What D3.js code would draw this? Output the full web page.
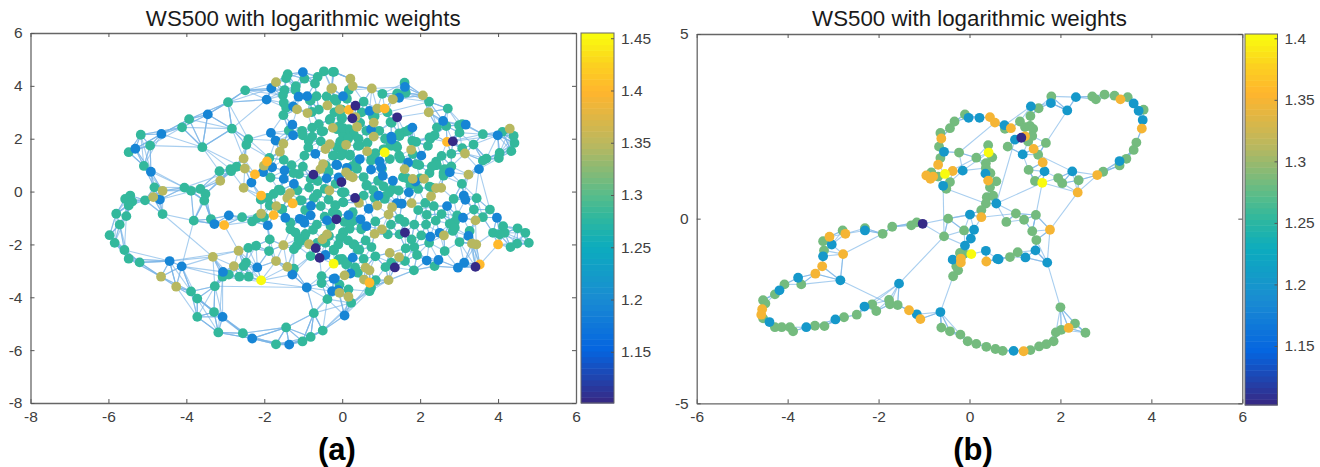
<!DOCTYPE html>
<html>
<head>
<meta charset="utf-8">
<script src="https://cdn.jsdelivr.net/npm/d3@7"></script>
<style>
body { margin: 0; background: #fff; }
svg { display: block; font-family: "Liberation Sans", Arial, sans-serif; }
.tick text { fill: #404040; font-size: 15.5px; }
.domain { stroke: #666; stroke-width: 1.3; }
.tick line { stroke: #555; stroke-width: 1; }
</style>
</head>
<body>
<svg width="1320" height="467"></svg>
<script>
// node positions, grouped by the colour (weight) of the dot
var weightsA = { indigo: 1.105, blue: 1.19, teal: 1.278, khaki: 1.349, orange: 1.40, yellow: 1.455 };
var weightsB = { indigo: 1.105, blue: 1.2015, green: 1.283, orange: 1.349, yellow: 1.403 };

var aIndigo = [[-.74,.64],[-.15,-1.05],[.34,3.25],[.26,2.77],[1.41,2.81],[2.84,1.90],[.33,-.24],[-.02,.36],[1.61,-1.55],[1.35,-2.87],[3.42,-2.85],[-.68,-2.14],[-.58,-2.51]];
var aYellow = [[-2.08,-3.36],[-.22,-2.73],[1.09,1.48]];
var aOrange = [[-2.24,.65],[-1.93,1.14],[-2.08,-.15],[-1.27,-.45],[-1.76,-.89],[-3.03,-1.27],[.17,3.09],[1.09,3.14],[2.69,1.88],[4.00,-2.00],[3.53,-2.76],[.70,-3.45]];
var aKhaki = [[-1.70,4.14],[-4.61,.03],[-4.85,-.21],[-3.13,.41],[-2.53,1.25],[-2.50,.87],[-2.01,.98],[-2.53,.14],[-1.51,1.81],[-1.60,1.51],[-1.34,-.06],[-1.41,-.24],[-1.69,-.55],[-2.08,-.84],
  [-.26,3.91],[-1.16,3.11],[-.89,2.97],[-.38,3.26],[-.06,3.11],[-.24,2.41],[-.32,1.79],[-.43,1.61],[-.49,1.04],[-.56,.85],[-.33,.04],
  [-3.32,-2.47],[-2.66,-2.24],[-1.51,-2.03],[-.85,-1.99],[-1.70,-2.63],[-1.41,-2.85],[-2.78,-2.82],[-4.65,-3.22],[-4.26,-3.60],[-.51,-1.81],[-.39,-1.62],
  [2.07,3.64],[2.22,3.00],[4.30,2.38],[3.15,1.44],[3.24,.64],[1.78,-.44],[2.28,-.18],[2.41,.13],[2.54,.14],[2.10,.48],[1.60,.85],[1.81,.48],[1.77,1.58],
  [1.30,3.49],[.76,3.90],[.21,4.27],[.27,3.99],[.90,3.14],[.34,2.82],[.81,2.61],[.38,2.45],[.81,2.08],[.10,1.77],[.64,1.52],[.10,.73],[.27,.54],[.19,.60],[.43,-.43],[.90,-.53],[1.28,-.59],[1.19,-.87],
  [3.42,-1.09],[3.44,-2.00],[3.33,-1.97],[2.61,-1.66],[1.02,-1.43],[.83,-1.60],[1.22,-2.32],[1.46,-2.48],[1.19,-3.35],[.56,-3.33],[.70,-2.98],[.60,-2.88],[.06,-3.17],[-.07,-3.83],[.16,-3.98],[-.28,3.89]];
var aBlue = [[-4.64,2.18],[-5.31,1.62],[-4.91,.75],[-3.45,2.92],[-1.82,3.91],[-1.94,3.48],[-4.68,-.30],[-3.28,-1.23],[-2.91,-.90],[-2.03,.74],[-1.80,.92],[-2.33,.34],[-1.83,2.22],[-1.71,1.93],[-1.91,-1.28],[-1.46,-.99],
  [-1.01,4.52],[-1.12,3.59],[-.90,3.61],[-1.26,3.22],[-1.28,2.53],[-1.26,2.13],[-.69,1.43],[-1.48,.80],[-1.50,.48],[-1.24,.29],[-.40,.50],[-.13,1.00],[-.09,.54],[-.80,-.54],[-1.09,-1.03],[-.99,-1.09],[-.81,-.90],[-.39,-1.09],[-.97,-1.18],
  [-4.43,-2.63],[-4.12,-2.83],[-3.07,-4.74],[-2.31,-5.56],[-1.36,-5.79],[-.91,-3.63],[-.26,-3.77],[-.10,-3.74],[-.19,-3.29],[-.43,-2.40],[-2.18,-2.87],[-3.06,-3.04],[-1.28,-3.14],
  [1.61,3.96],[1.46,3.55],[2.59,2.67],[3.17,2.53],[3.99,2.13],[3.51,.85],[3.12,-.15],[3.16,-.31],[2.69,-.55],[3.97,-.99],[3.10,-.99],[2.76,.73],[1.88,.38],[1.71,-.03],[1.30,.41],[2.03,1.36],[1.69,1.10],[1.26,2.08],[1.80,2.42],[1.53,-.46],
  [.02,3.61],[.70,3.05],[.74,2.36],[.45,1.23],[.96,1.14],[-.15,1.02],[.74,.83],[1.00,.92],[1.04,.60],[.93,-.15],[.68,-.65],[.47,-1.05],[.62,-1.31],[.16,-.89],
  [3.24,-1.68],[3.13,-2.69],[2.97,-2.88],[2.50,-1.56],[2.47,-2.59],[2.17,-2.61],[2.26,-1.71],[.27,-2.50],[.21,-3.10],[.06,-4.69],[-.11,-3.73],[-.22,-3.30],[1.27,1.97],[.12,.90],[1.40,-.44]];
var aTeal = [[-5.17,2.15],[-5.48,1.49],[-4.93,1.74],[-5.09,.97],[-4.11,2.43],[-3.93,2.74],[-2.93,3.38],[-2.49,3.83],[-2.83,2.38],[-3.59,1.68],[-4.82,.16],[-5.06,-.33],[-5.44,-.15],[-5.57,-.28],[-5.39,-.38],[-5.48,-.53],
  [-4.05,.15],[-3.88,.03],[-3.64,.10],[-3.51,-.09],[-3.54,-.34],[-4.61,-.85],[-5.80,-.84],[-5.54,-.93],[-5.71,-1.25],[-3.81,-1.10],[-3.37,-1.04],[-2.57,-.97],[-3.15,.77],[-2.87,.85],[-2.85,.77],[-2.71,.94],[-1.87,1.27],[-1.84,.53],[-2.41,1.98],[-2.46,1.77],
  [-1.91,-.24],[-2.09,-.30],[-1.86,-.53],[-1.54,-.68],[-2.31,-1.13],[-2.18,-1.00],[-2.01,-.97],[-1.33,-1.18],[-1.58,.04],
  [-1.40,4.44],[-1.44,4.29],[-.97,4.27],[-.47,4.55],[-.21,4.53],[-.63,4.34],[-.70,4.09],[-1.19,3.99],[-1.20,3.84],[-1.48,3.84],[-1.52,3.65],[-.66,3.61],[-.81,3.44],[-1.50,3.36],[-1.44,3.17],[-.78,3.01],[-.15,3.43],[-1.51,2.89],[-.32,2.71],
  [-.77,2.42],[-1.37,2.31],[-1.03,2.30],[-1.01,2.13],[-.49,2.28],[-.13,2.36],[-.77,2.08],[-.86,1.92],[-.87,1.67],[-.13,1.67],[-.97,1.36],[-.21,1.36],[-1.01,.94],[-1.11,.66],[-.63,.40],[-.81,.48],[-.17,.29],[-1.04,-.33],[-.64,-.09],[-.73,-.24],[-.17,-.53],[-.13,-.88],[-1.50,1.20],
  [-1.63,.07],[-1.76,-.09],[-1.08,-.34],[-1.55,-.66],[-.14,-.85],[-.18,-.51],[-.83,3.45],[-.18,3.50],[-.01,2.81],[-.31,2.75],[.07,2.17],[-.53,2.28],[.00,1.55],[-.42,.98],
  [-5.97,-1.65],[-5.84,-1.94],[-5.59,-2.21],[-5.48,-2.54],[-5.20,-2.68],[-3.88,-3.78],[-3.72,-4.05],[-3.72,-4.74],[-3.29,-4.56],[-3.18,-5.33],[-2.55,-5.36],[-1.70,-5.78],[-1.44,-5.14],[-1.02,-5.67],[-.81,-5.50],[-.50,-5.26],[-.73,-4.60],[-.38,-4.07],[-.53,-3.20],[-.53,-3.46],
  [-.81,-2.44],[-.21,-2.23],[-.09,-2.57],[-2.41,-2.13],[-2.21,-2.05],[-1.86,-1.81],[-1.88,-2.25],[-1.24,-2.18],[-1.16,-2.04],[-1.07,-1.87],[-.97,-1.71],[-1.33,-1.43],[-1.24,-2.92],[-2.47,-2.69],[-2.53,-2.82],[-3.07,-3.22],[-2.91,-3.14],[-2.64,-3.22],[-2.40,-3.22],[-3.27,-3.58],
  [-.34,-1.68],[-.43,-1.94],[-.64,-1.94],[-.94,-1.60],[-1.12,-1.79],[-.22,-2.20],[-.45,-1.75],
  [1.60,4.12],[1.63,3.74],[1.41,3.71],[2.23,3.40],[2.71,3.14],[2.43,2.43],[2.67,2.48],[3.00,2.51],[3.08,2.55],[3.01,2.23],[3.61,2.17],[4.11,2.26],[4.40,2.11],[4.42,1.84],[4.34,1.53],[3.37,1.78],[3.08,1.64],[2.80,1.43],[3.70,1.25],[3.61,1.17],[4.04,1.46],[4.02,1.27],[3.07,.29],[2.86,-.28],
  [3.38,-.68],[3.79,-.68],[3.61,-.97],[2.95,-.90],[2.89,-1.13],[2.76,-1.22],[2.17,-.88],[2.13,-.43],[2.24,.19],[2.63,.85],[2.60,.60],[2.24,.70],[2.41,1.13],[2.40,1.00],[1.28,.08],[1.45,.04],[1.56,.54],[1.81,1.42],[1.90,1.04],[1.46,1.36],[1.26,1.73],[1.39,1.73],
  [1.46,2.20],[1.60,2.26],[1.71,2.33],[1.80,1.92],[1.90,1.88],[2.20,1.73],[2.24,2.05],[2.37,2.13],[1.03,3.70],[-.24,4.53],[.17,3.84],[-.20,3.49],[.12,3.51],[-.07,3.11],[1.16,3.00],[.79,2.84],[1.24,2.63],[.02,2.17],[.17,2.36],[-.07,2.48],[.40,1.73],[.19,1.36],[-.03,1.36],[-.24,1.36],[.74,1.17],[1.22,1.23],[.36,1.10],
  [.62,.23],[.92,.41],[.06,-.03],[.02,-.40],[.83,-.24],[1.09,-.28],[1.47,-1.03],[.27,-.78],[.06,-1.15],[-.24,-.78],[.29,-1.10],[.03,-1.54],
  [4.79,-1.94],[4.70,-1.56],[4.50,-1.39],[4.49,-1.97],[4.32,-2.10],[4.17,-1.56],[4.13,-1.31],[3.87,-1.56],[4.04,-1.62],[3.01,-1.91],[3.27,-1.49],[2.84,-1.49],[2.89,-1.37],[2.63,-2.25],[2.37,-2.82],[1.84,-2.98],[1.92,-2.40],[2.23,-1.94],[1.63,-2.15],[2.03,-1.66],[1.78,-1.81],[1.47,-1.62],[1.17,-1.62],
  [1.61,-2.63],[1.26,-2.69],[1.11,-2.86],[.86,-3.35],[.70,-3.77],[.74,-3.64],[.40,-3.07],[-.07,-2.57],[.10,-2.76],[.40,-2.19],[.29,-2.00],[.02,-1.56],[.49,-1.43],[.23,-1.15],[.23,-4.21],[.16,-3.70],[-.07,-3.52],
  [-.01,3.10],[-.01,2.75],[.03,2.40],[.20,2.30],[.42,1.99],[.44,1.74],[.20,1.40],[.76,1.30],[1.49,1.25],[1.98,1.00],[1.02,.86],[.38,.86],[1.47,2.10],[1.69,2.30],[.46,2.60],[.30,2.15],[1.27,2.60],[.83,2.85],[1.06,1.60],[1.23,1.80],[1.41,1.68],[2.26,2.00],[2.43,1.00],[2.60,.70],[2.30,.95],[2.00,.50],[2.30,.15],[1.66,.50],[1.06,.20],[.85,-.22],[1.10,-.18],[.55,-.15],[.03,-.41],[.63,.25],
  [-.01,-.03],[.85,-1.13],[.50,-1.35],[.19,-1.41],[.31,-2.00],[.44,-2.20],[.00,-2.55],[.13,-2.68],[.33,-2.87],[-.35,.75],[-1.30,1.00],[-1.25,.70],[-.85,.15],[-.45,.10],[-1.15,.05],[-.95,-.70],[-.55,-.55],[-.35,-.30],[-.45,-.95],[-.65,-1.25],[-1.20,-1.55],[-.75,-1.45],[-.30,-1.30],[-.05,-1.75],[-.10,-2.00],[.15,-1.85],[.60,-1.85],[.75,-2.10],[.55,-2.55],[.85,-2.45],[-.05,1.90],[-.55,1.90],[-.60,2.55],[-.60,3.10],[-.40,3.60],[-.20,3.00],[.55,3.40],[.50,3.00],[.62,2.30],[.95,2.30],[1.10,2.00],[.15,2.00],[.65,1.85],[.85,1.45],[.25,.95],[.55,.55],[.80,.05],[1.20,-.05],[1.75,.25],[1.95,.10],[1.25,-1.25],[1.60,-1.15],[1.85,-1.25],[2.15,-1.25],[2.40,-1.10],[2.55,-.85],[1.95,-.70],[2.35,-.55],[1.85,-2.10],[3.45,-.25],[2.55,1.35],[2.80,.95]];

var bIndigo = [[-1.03,-.14],[1.14,2.19]];
var bYellow = [[.42,1.79],[-.54,1.21],[.04,-.96],[1.60,.97]];
var bOrange = [[.45,2.75],[.56,2.60],[-.62,2.17],[-.69,1.46],[.41,1.03],[.26,.04],[-.37,1.29],[-.80,1.14],[-.95,1.17],[-.86,1.08],[-2.73,-.41],[-3.08,-.49],[-2.78,-.96],[-3.24,-1.29],[-3.39,-1.49],[-4.56,-2.45],[-4.58,-2.60],[-1.33,-2.48],[-1.08,-2.72],[-.19,-1.19],[-.19,-1.08],[.37,-1.16],
  [3.32,3.23],[3.79,2.44],[2.81,1.18],[2.38,.71],[1.61,1.52],[1.41,1.89],[.91,2.45],[1.22,2.23],[1.77,-.30],[2.18,-2.96],[1.19,-3.59]];
var bBlue = [[-.02,2.73],[.22,2.73],[-.56,1.81],[.35,1.22],[.59,.41],[.01,.11],[.10,-.30],[.03,-.54],[-.15,1.30],[-.58,.89],[-2.30,-.32],[-3.03,-.70],[-3.22,-1.02],[-2.84,-1.67],[-3.77,-1.60],[-4.18,-1.94],[-4.40,-2.80],[-3.59,-2.94],[-2.95,-2.73],[-2.31,-2.38],[-1.55,-1.76],[-1.16,-2.59],[-.64,-2.53],[-.37,-1.11],[-.10,-.73],[.36,-.87],[.61,-1.09],
  [1.79,3.13],[2.34,3.29],[2.15,2.93],[3.61,3.12],[3.72,2.92],[3.81,2.67],[3.30,1.56],[2.26,1.28],[1.65,1.28],[1.17,1.74],[1.35,3.04],[.77,2.53],[1.00,2.14],[1.45,-.86],[1.71,-1.19],[1.23,-1.05],[.64,-1.10],[.97,-3.58]];
var bGreen = [[-.10,2.82],[-.33,2.63],[-.43,2.45],[-.64,2.32],[-.67,1.95],[-.23,1.79],[-.64,1.64],[.15,1.65],[.41,1.99],[.50,1.66],[.36,1.50],[.36,1.37],[.46,1.23],[.59,1.01],[.45,.85],[.38,.58],[.52,.62],[.36,.41],[.26,.23],[-.12,-.32],[-.47,0],[-.56,-.48],[-.84,1.25],[-.69,1.14],[-.43,.99],[-.51,.81],
  [-1.16,-.10],[-1.28,-.18],[-1.70,-.22],[-1.91,-.41],[-2.30,-.26],[-2.79,-.32],[-3.22,-.61],[-3.20,-.86],[-3.70,-1.78],[-4.07,-1.78],[-4.28,-2.05],[-4.54,-2.21],[-4.49,-2.30],[-4.54,-2.70],[-4.28,-2.94],[-4.13,-2.94],[-3.95,-2.94],[-3.88,-3.05],[-3.40,-2.90],[-3.19,-2.91],[-2.76,-2.67],[-2.48,-2.60],[-2.14,-2.32],[-2.05,-2.50],[-1.77,-2.20],[-1.75,-2.32],[-1.58,-2.34],
  [-.62,-2.95],[-.43,-3.05],[-.20,-3.14],[-.04,-3.32],[.15,-3.39],[.37,-3.47],[.57,-3.53],[-.21,-.93],[-.12,-.95],[-.29,-1.29],[-.25,-1.40],[-.36,-1.56],
  [1.80,3.31],[2.70,3.31],[2.78,3.23],[2.97,3.36],[3.19,3.33],[3.48,3.29],[3.83,2.95],[3.67,2.06],[3.61,1.86],[3.45,1.62],[3.30,1.44],[2.94,1.27],[1.95,1.10],[2.04,.96],[2.40,1.04],[1.44,1.02],[1.30,1.32],[1.51,1.73],[1.68,2.05],[1.52,2.99],[1.34,2.78],[1.11,2.63],[.78,2.43],[1.22,2.48],[1.33,2.51],[1.40,2.43],[1.38,2.24],[1.29,2.09],[.84,1.95],
  [1.02,.14],[1.20,-.03],[.81,-.09],[1.46,.10],[1.38,-.34],[1.47,-.58],[1.06,-.91],[.89,-1.04],[2.00,-2.40],[2.32,-2.84],[2.02,-3.01],[1.90,-3.08],[2.55,-3.09],[1.85,-3.32],[1.69,-3.40],[1.53,-3.46],[1.34,-3.56],[.73,-3.58]];

// long links that can be read in the sparse parts, as x1,y1,x2,y2
var aLinks = [[-3.59,1.68,-3.45,2.92],[-3.59,1.68,-4.11,2.43],[-3.59,1.68,-2.83,2.38],[-3.59,1.68,-2.50,.87],[-4.64,2.18,-3.59,1.68],[-4.64,2.18,-3.93,2.74],[-5.17,2.15,-4.11,2.43],[-4.93,1.74,-3.59,1.68],
  [-2.83,2.38,-2.93,3.38],[-2.83,2.38,-1.94,3.48],[-2.83,2.38,-4.11,2.43],[-2.83,2.38,-3.45,2.92],[-2.93,3.38,-3.45,2.92],[-2.93,3.38,-2.49,3.83],[-2.93,3.38,-1.94,3.48],[-2.49,3.83,-1.82,3.91],[-2.93,3.38,-1.82,3.91],[-2.49,3.83,-1.48,3.84],
  [-4.91,.75,-4.05,.15],[-5.09,.97,-4.05,.15],[-4.82,.16,-4.05,.15],[-4.61,.03,-3.64,.10],[-4.68,-.30,-3.64,.10],[-4.05,.15,-2.85,.77],[-3.64,.10,-2.85,.77],[-3.51,-.09,-2.87,.85],[-3.81,-1.10,-3.54,-.34],[-3.54,-.34,-3.37,-1.04],[-4.61,-.85,-5.06,-.33],
  [-3.81,-1.10,-4.12,-2.83],[-4.61,-.85,-3.32,-2.47],[-5.20,-2.68,-4.43,-2.63],[-5.48,-2.54,-4.43,-2.63],[-5.59,-2.21,-4.43,-2.63],[-4.43,-2.63,-3.32,-2.47],[-4.43,-2.63,-2.66,-2.24],[-4.12,-2.83,-3.06,-3.04],[-4.12,-2.83,-3.07,-3.22],[-5.20,-2.68,-4.65,-3.22],[-4.65,-3.22,-3.88,-3.78],[-4.26,-3.60,-3.88,-3.78],[-4.43,-2.63,-4.26,-3.60],[-4.12,-2.83,-3.88,-3.78],
  [-3.27,-3.58,-3.29,-4.56],[-3.07,-3.22,-3.18,-5.33],[-3.07,-3.22,-3.07,-4.74],[-3.72,-4.05,-3.72,-4.74],[-3.72,-4.05,-3.29,-4.56],[-3.72,-4.74,-3.29,-4.56],[-3.72,-4.74,-3.18,-5.33],[-3.07,-4.74,-2.55,-5.36],[-3.29,-4.56,-3.18,-5.33],[-3.18,-5.33,-2.55,-5.36],[-3.07,-4.74,-2.31,-5.56],[-3.18,-5.33,-2.31,-5.56],[-2.55,-5.36,-1.44,-5.14],[-2.31,-5.56,-1.44,-5.14],[-2.31,-5.56,-1.70,-5.78],[-1.70,-5.78,-1.36,-5.79],[-1.44,-5.14,-.73,-4.60],[-1.44,-5.14,-1.36,-5.79],[-1.44,-5.14,-1.70,-5.78],
  [-.73,-4.60,-1.02,-5.67],[-.73,-4.60,-.81,-5.50],[-.73,-4.60,-.50,-5.26],[-.50,-5.26,.06,-4.69],[-.50,-5.26,.23,-4.21],[.06,-4.69,.16,-3.98],[.06,-4.69,.70,-3.77],[-.50,-5.26,.74,-3.64],[-.73,-4.60,.23,-4.21],[-.38,-4.07,.23,-4.21],[-.91,-3.63,-.73,-4.60],[-3.07,-3.22,-.91,-3.63],[-3.27,-3.58,-.91,-3.63],
  [.06,-4.69,.70,-3.45],[.23,-4.21,.74,-3.64],[.23,-4.21,1.19,-3.35],[1.19,-3.35,1.84,-2.98],[.74,-3.64,1.84,-2.98],[-2.08,-3.36,-1.28,-3.14],[-2.08,-3.36,-1.41,-2.85],[-1.28,-3.14,-.91,-3.63],
  [3.38,-.68,3.51,.85],[3.51,.85,3.79,-.68],[3.42,-1.09,3.44,-2.00],[3.24,-1.68,3.42,-2.85],[3.33,-1.97,3.42,-2.85],
  [1.30,3.49,2.07,3.64],[1.46,3.55,2.23,3.40],[1.63,3.74,2.07,3.64],[1.03,3.70,1.60,4.12],[.76,3.90,1.61,3.96],[.27,3.99,.76,3.90],[-.24,4.53,.21,4.27],[2.07,3.64,2.22,3.00],[2.23,3.40,2.71,3.14],[2.71,3.14,2.59,2.67],[2.23,3.40,2.59,2.67],[1.41,2.81,2.22,3.00],[1.16,3.00,2.23,3.40],
  [2.69,1.88,3.61,2.17],[2.84,1.90,3.99,2.13],[3.61,2.17,3.99,2.13],[3.37,1.78,3.99,2.13],[3.99,2.13,4.42,1.84],[4.11,2.26,4.34,1.53],[4.30,2.38,4.42,1.84],[3.61,1.17,4.04,1.46],[3.70,1.25,3.99,2.13],[3.37,1.78,3.70,1.25],[4.02,1.27,4.42,1.84],[3.51,.85,3.61,1.17],[3.24,.64,3.51,.85]];
var bLinks = [[-1.55,-1.76,-.56,-.48],[-2.84,-1.67,-1.75,-2.32],[-2.84,-1.67,-2.78,-.96],[-2.78,-.96,-1.91,-.41],[-2.84,-1.67,-3.39,-1.49],[-2.84,-1.67,-3.24,-1.29],[-3.70,-1.78,-2.84,-1.67],[-1.55,-1.76,-2.14,-2.32],[-1.55,-1.76,-2.31,-2.38],[-1.55,-1.76,-1.58,-2.34],
  [-.64,-2.53,-.36,-1.56],[-.64,-2.53,-1.16,-2.59],[-.64,-2.53,-.62,-2.95],[-.64,-2.53,-.43,-3.05],[-.64,-2.53,-.20,-3.14],[1.71,-1.19,2.00,-2.40],[2.00,-2.40,2.02,-3.01],[2.00,-2.40,1.90,-3.08],[2.00,-2.40,2.18,-2.96],[2.00,-2.40,2.32,-2.84],[2.32,-2.84,2.55,-3.09],[2.18,-2.96,2.55,-3.09],
  [-.58,.89,-.56,-.48],[-.47,0,-1.03,-.14],[-.47,0,.01,.11],[-.47,0,-.12,-.32],[-.51,.81,.36,.41],[.26,.04,1.02,.14],[.56,2.60,-.23,1.79],[-.15,1.30,.42,1.79],[-.54,1.21,.15,1.65],[2.38,.71,1.77,-.30],[2.38,.71,2.81,1.18],[1.60,.97,2.38,.71],[1.60,.97,1.46,.10],[.59,.41,1.60,.97],[1.00,2.14,.59,.41],
  [2.15,2.93,1.68,2.05],[1.68,2.05,1.51,1.73],[1.30,1.32,1.17,1.74],[1.44,1.02,1.30,1.32],[1.38,-.34,1.46,.10],[1.77,-.30,1.46,.10],[1.71,-1.19,1.77,-.30],[1.71,-1.19,1.45,-.86],[1.71,-1.19,1.23,-1.05],[1.79,3.13,1.35,3.04],[.77,2.53,1.35,3.04],[2.34,3.29,1.80,3.31],[2.15,2.93,1.79,3.13],
  [2.26,1.28,1.51,1.73],[2.26,1.28,2.81,1.18],[2.40,1.04,2.81,1.18],[2.81,1.18,3.30,1.56],[.01,.11,-.12,-.32],[.36,1.37,-.15,1.30],[1.17,1.74,.84,1.95],[.15,1.65,-.23,1.79],[-.56,1.81,-.23,1.79],[1.02,.14,.59,.41]];

// colour ramp of the colorbar
var rampStops = [0, .14, .28, .42, .50, .56, .70, .845, .92, 1];
var rampColors = ["#352a87", "#0565e0", "#1a8cd2", "#0cacbe", "#2eb79f", "#55bc8c", "#b8b860", "#ffb52e", "#fcd020", "#f9fb0e"];
var rampLevels = 64;

var xTicksA = [-8, -6, -4, -2, 0, 2, 4, 6], yTicksA = [-8, -6, -4, -2, 0, 2, 4, 6];
var xTicksB = [-6, -4, -2, 0, 2, 4, 6], yTicksB = [-5, 0, 5];
var barTicksA = [1.15, 1.2, 1.25, 1.3, 1.35, 1.4, 1.45];
var barTicksB = [1.15, 1.2, 1.25, 1.3, 1.35, 1.4];

var ramp = d3.scaleLinear().domain(rampStops).range(rampColors).clamp(true);
function bandColor(t) {
    var k = Math.min(rampLevels - 1, Math.floor(t * rampLevels));
    return ramp(k / (rampLevels - 1));
}

var svg = d3.select("svg");

function drawPanel(o) {
    var x = d3.scaleLinear().domain(o.xDomain).range([o.left, o.right]);
    var y = d3.scaleLinear().domain(o.yDomain).range([o.bottom, o.top]);
    var c = d3.scaleLinear().domain(o.barDomain).range([0, 1]);
    var barY = d3.scaleLinear().domain(o.barDomain).range([o.barBottom, o.barTop]);

    var nodes = [];
    o.groups.forEach(function (g) {
        g.pts.forEach(function (p) {
            nodes.push({ px: x(p[0]), py: y(p[1]), w: g.w });
        });
    });

    // the single links in the dense parts cannot be told apart in the picture,
    // so each node is tied to its nearest neighbours to give the same web
    var links = [];
    nodes.forEach(function (n) {
        var near = nodes.filter(function (m) { return m !== n; })
            .map(function (m) { return { m: m, d: Math.hypot(m.px - n.px, m.py - n.py) }; })
            .sort(function (p, q) { return p.d - q.d; })
            .slice(0, o.k);
        near.forEach(function (e) {
            if (e.d < o.maxLen) links.push([n.px, n.py, e.m.px, e.m.py]);
        });
    });
    o.extra.forEach(function (l) {
        links.push([x(l[0]), y(l[1]), x(l[2]), y(l[3])]);
    });

    var g = svg.append("g");
    g.selectAll("line.link")
        .data(links)
        .enter()
        .append("line")
        .attr("class", "link")
        .attr("x1", function (d) { return d[0]; })
        .attr("y1", function (d) { return d[1]; })
        .attr("x2", function (d) { return d[2]; })
        .attr("y2", function (d) { return d[3]; })
        .style("stroke", "#7ab3e6")
        .style("stroke-opacity", 0.65)
        .style("stroke-width", 1.1);

    g.selectAll("circle")
        .data(nodes)
        .enter()
        .append("circle")
        .attr("cx", function (d) { return d.px; })
        .attr("cy", function (d) { return d.py; })
        .attr("r", 4.9)
        .style("fill", function (d) { return bandColor(c(d.w)); });

    // box with ticks pointing in on all four sides, plain hyphen in the labels
    function axis(a, ticks, tx, ty, labels) {
        var ax = a.tickValues(ticks).tickSizeOuter(0).tickSizeInner(-4).tickPadding(labels ? 8 : 0);
        ax.tickFormat(labels ? String : "");
        svg.append("g").attr("transform", "translate(" + tx + "," + ty + ")").call(ax);
    }
    axis(d3.axisBottom(x), o.xTicks, 0, o.bottom, true);
    axis(d3.axisTop(x), o.xTicks, 0, o.top, false);
    axis(d3.axisLeft(y), o.yTicks, o.left, 0, true);
    axis(d3.axisRight(y), o.yTicks, o.right, 0, false);

    // colorbar
    var bands = d3.range(rampLevels);
    var h = (o.barBottom - o.barTop) / rampLevels;
    svg.append("g").selectAll("rect")
        .data(bands)
        .enter()
        .append("rect")
        .attr("x", o.barLeft)
        .attr("y", function (d) { return o.barBottom - (d + 1) * h; })
        .attr("width", o.barRight - o.barLeft)
        .attr("height", h + 0.5)
        .style("fill", function (d) { return bandColor((d + 0.5) / rampLevels); });
    svg.append("rect")
        .attr("x", o.barLeft).attr("y", o.barTop)
        .attr("width", o.barRight - o.barLeft).attr("height", o.barBottom - o.barTop)
        .style("fill", "none").style("stroke", "#666").style("stroke-width", 1);
    svg.append("g")
        .attr("transform", "translate(" + o.barRight + ",0)")
        .call(d3.axisRight(barY).tickValues(o.barTicks).tickSizeOuter(0).tickSizeInner(-3).tickPadding(7).tickFormat(String))
        .select(".domain").remove();

    svg.append("text")
        .attr("x", (o.left + o.right) / 2)
        .attr("y", 26)
        .attr("text-anchor", "middle")
        .style("font-size", "22.3px")
        .style("fill", "#1a1a1a")
        .text(o.title);
    svg.append("text")
        .attr("x", o.tagX)
        .attr("y", 460)
        .attr("text-anchor", "middle")
        .style("font-size", "31px")
        .style("font-weight", "bold")
        .style("fill", "#000")
        .text(o.tag);
}

drawPanel({
    groups: [
        { pts: aTeal, w: weightsA.teal }, { pts: aBlue, w: weightsA.blue }, { pts: aKhaki, w: weightsA.khaki },
        { pts: aOrange, w: weightsA.orange }, { pts: aIndigo, w: weightsA.indigo }, { pts: aYellow, w: weightsA.yellow }
    ],
    extra: aLinks, k: 6, maxLen: 46,
    xDomain: [-8, 6], yDomain: [-8, 6], xTicks: xTicksA, yTicks: yTicksA,
    left: 30.5, right: 576, top: 33, bottom: 403,
    barDomain: [1.101, 1.455], barTicks: barTicksA, barLeft: 581, barRight: 614, barTop: 33, barBottom: 403,
    title: "WS500 with logarithmic weights", tag: "(a)", tagX: 337
});

drawPanel({
    groups: [
        { pts: bGreen, w: weightsB.green }, { pts: bBlue, w: weightsB.blue }, { pts: bOrange, w: weightsB.orange },
        { pts: bIndigo, w: weightsB.indigo }, { pts: bYellow, w: weightsB.yellow }
    ],
    extra: bLinks, k: 3, maxLen: 32,
    xDomain: [-6, 6], yDomain: [-5, 5], xTicks: xTicksB, yTicks: yTicksB,
    left: 696.7, right: 1242.3, top: 34, bottom: 403.3,
    barDomain: [1.102, 1.4035], barTicks: barTicksB, barLeft: 1245, barRight: 1277.5, barTop: 34, barBottom: 405,
    title: "WS500 with logarithmic weights", tag: "(b)", tagX: 973
});
</script>
</body>
</html>
